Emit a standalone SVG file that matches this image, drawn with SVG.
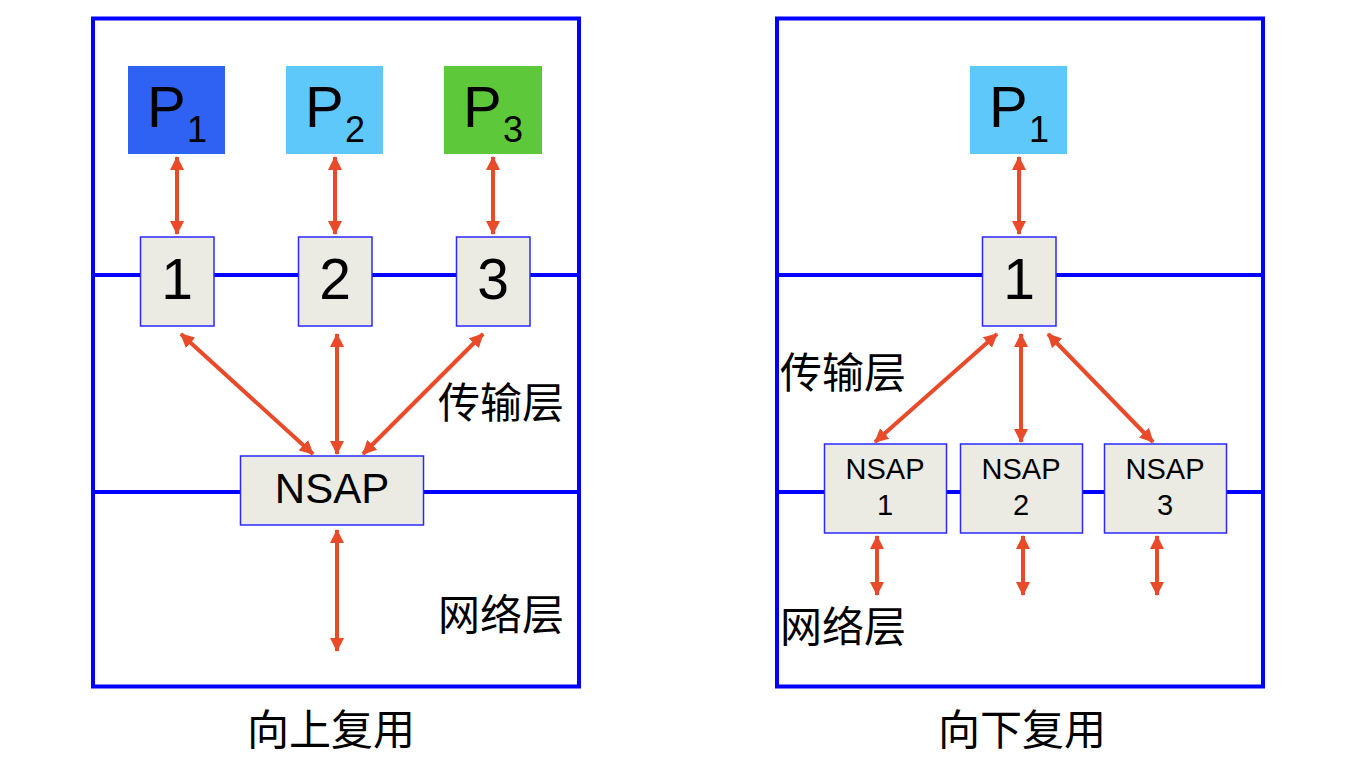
<svg xmlns="http://www.w3.org/2000/svg" width="1347" height="770" viewBox="0 0 1347 770">
<style>
.frame{fill:none;stroke:#0000ff;stroke-width:4}
.layer{stroke:#0000ff;stroke-width:4}
.box{fill:#ebebe3;stroke:#2a2aff;stroke-width:1.5}
.arr{stroke:#e84a2a;stroke-width:4;fill:none;marker-start:url(#ah);marker-end:url(#ah)}
.t{font-family:"Liberation Sans",Arial,sans-serif;fill:#000}
.cjk{font-family:"Noto Sans CJK SC","Liberation Sans",sans-serif;fill:#000}
</style>
<defs>
<marker id="ah" viewBox="0 0 14 14" refX="13" refY="7" markerWidth="14" markerHeight="14" markerUnits="userSpaceOnUse" orient="auto-start-reverse">
<path d="M0,0 L14,7 L0,14 z" fill="#e84a2a"/>
</marker>
</defs>
<rect width="1347" height="770" fill="#fff"/>

<g id="left-frame">
<rect class="frame" x="93" y="18.5" width="486" height="668"/>
<line class="layer" x1="93" y1="275" x2="579" y2="275"/>
<line class="layer" x1="93" y1="492" x2="579" y2="492"/>
</g>
<g id="right-frame">
<rect class="frame" x="777" y="18.5" width="486" height="668"/>
<line class="layer" x1="777" y1="275" x2="1263" y2="275"/>
<line class="layer" x1="777" y1="492" x2="1263" y2="492"/>
</g>

<g id="connectors">
<line class="arr" x1="177" y1="157" x2="177" y2="234"/>
<line class="arr" x1="335" y1="157" x2="335" y2="234"/>
<line class="arr" x1="493" y1="157" x2="493" y2="234"/>
<line class="arr" x1="181" y1="334" x2="313" y2="454"/>
<line class="arr" x1="337" y1="334" x2="337" y2="454"/>
<line class="arr" x1="483" y1="334" x2="363" y2="454"/>
<line class="arr" x1="337" y1="530" x2="337" y2="651"/>
<line class="arr" x1="1019" y1="157" x2="1019" y2="234"/>
<line class="arr" x1="997" y1="334" x2="875" y2="442"/>
<line class="arr" x1="1021" y1="334" x2="1021" y2="442"/>
<line class="arr" x1="1048" y1="334" x2="1153" y2="442"/>
<line class="arr" x1="877" y1="536" x2="877" y2="595"/>
<line class="arr" x1="1023" y1="536" x2="1023" y2="595"/>
<line class="arr" x1="1157" y1="536" x2="1157" y2="595"/>
</g>

<g id="L-P1"><rect x="128" y="66" width="97" height="88" fill="#2f62f2"/><text class="t" x="147" y="127" font-size="58">P</text><text class="t" x="187" y="142" font-size="36">1</text></g>
<g id="L-P2"><rect x="286" y="66" width="97" height="88" fill="#5ec8fa"/><text class="t" x="305" y="127" font-size="58">P</text><text class="t" x="345" y="142" font-size="36">2</text></g>
<g id="L-P3"><rect x="444" y="66" width="98" height="88" fill="#5cc83a"/><text class="t" x="463" y="127" font-size="58">P</text><text class="t" x="503" y="142" font-size="36">3</text></g>

<g id="L-1"><rect class="box" x="140.5" y="237" width="73.5" height="89"/><text class="t" x="177" y="299" font-size="57" text-anchor="middle">1</text></g>
<g id="L-2"><rect class="box" x="298.5" y="237" width="73.5" height="89"/><text class="t" x="335" y="299" font-size="57" text-anchor="middle">2</text></g>
<g id="L-3"><rect class="box" x="456.5" y="237" width="73.5" height="89"/><text class="t" x="493" y="299" font-size="57" text-anchor="middle">3</text></g>

<g id="L-NSAP"><rect class="box" x="240.5" y="456" width="183" height="69"/><text class="t" x="332" y="503" font-size="42" text-anchor="middle">NSAP</text></g>

<g id="L-labels">
<text class="cjk" x="438" y="418" font-size="42">传输层</text>
<text class="cjk" x="438" y="630" font-size="42">网络层</text>
<text class="cjk" x="331" y="745" font-size="42" text-anchor="middle">向上复用</text>
</g>

<g id="R-P1"><rect x="970" y="66" width="97" height="88" fill="#5ec8fa"/><text class="t" x="989" y="127" font-size="58">P</text><text class="t" x="1029" y="142" font-size="36">1</text></g>
<g id="R-1"><rect class="box" x="982.5" y="237" width="73.5" height="89"/><text class="t" x="1019" y="299" font-size="57" text-anchor="middle">1</text></g>

<g id="R-NSAP1"><rect class="box" x="824.5" y="444" width="122" height="89"/><text class="t" x="885" y="479" font-size="29" text-anchor="middle">NSAP</text><text class="t" x="885" y="515" font-size="29" text-anchor="middle">1</text></g>
<g id="R-NSAP2"><rect class="box" x="960.5" y="444" width="122" height="89"/><text class="t" x="1021" y="479" font-size="29" text-anchor="middle">NSAP</text><text class="t" x="1021" y="515" font-size="29" text-anchor="middle">2</text></g>
<g id="R-NSAP3"><rect class="box" x="1104.5" y="444" width="122" height="89"/><text class="t" x="1165" y="479" font-size="29" text-anchor="middle">NSAP</text><text class="t" x="1165" y="515" font-size="29" text-anchor="middle">3</text></g>

<g id="R-labels">
<text class="cjk" x="780" y="388" font-size="42">传输层</text>
<text class="cjk" x="780" y="642" font-size="42">网络层</text>
<text class="cjk" x="1022" y="745" font-size="42" text-anchor="middle">向下复用</text>
</g>
</svg>
